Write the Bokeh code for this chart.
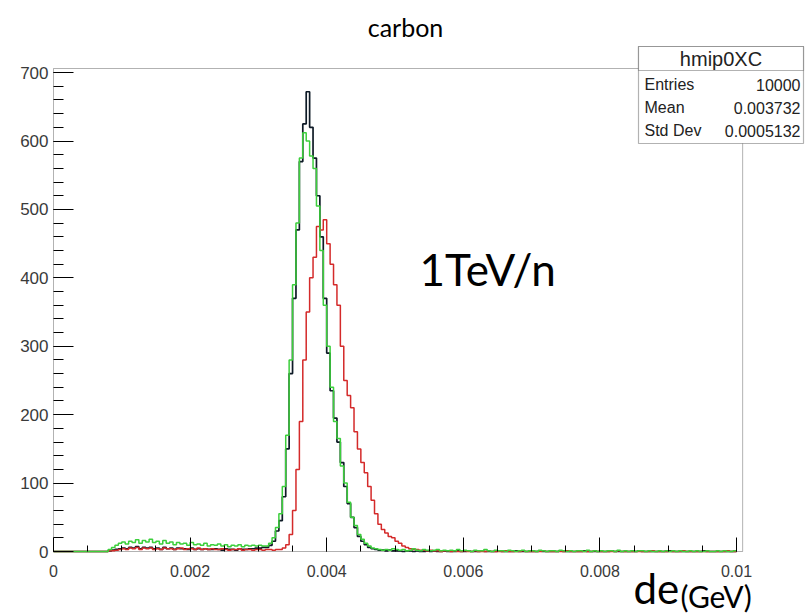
from bokeh.plotting import figure
from bokeh.models import Label, BoxAnnotation, FixedTicker, CustomJSTickFormatter, Range1d
from bokeh.embed import file_html
from bokeh.resources import INLINE

# ---------------- data (200 bins, 0 .. 0.01 GeV) ----------------
BIN_LOW = 0.0
BIN_WIDTH = 0.00005
N_BINS = 200

black_counts = [
    0, 0, 0, 0, 0, 0, 0, 0, 0, 0, 0, 0, 0, 0, 0, 0, 1, 2, 3, 4,
    5, 4, 6, 5, 7, 4, 6, 5, 6, 4, 5, 3, 6, 4, 5, 3, 5, 4, 4, 3,
    5, 3, 4, 3, 4, 3, 3, 4, 3, 2, 4, 3, 3, 2, 4, 3, 3, 4, 4, 5,
    5, 6, 6, 9, 15, 30, 45, 80, 150, 260, 370, 470, 570, 625, 672, 620, 575, 520, 460, 370,
    290, 235, 195, 160, 130, 95, 70, 50, 35, 22, 15, 10, 6, 4, 3, 2, 2, 1, 2, 1,
    1, 1, 0, 1, 1, 0, 1, 0, 0, 1, 0, 1, 0, 0, 1, 0, 0, 0, 1, 0,
    0, 1, 0, 0, 0, 1, 0, 0, 0, 0, 1, 0, 0, 0, 0, 1, 0, 0, 0, 0,
    0, 0, 1, 0, 0, 0, 0, 0, 1, 0, 0, 0, 0, 0, 0, 1, 0, 0, 0, 0,
    0, 0, 0, 1, 0, 0, 0, 0, 0, 0, 0, 1, 0, 0, 0, 0, 0, 0, 0, 0,
    1, 0, 0, 0, 0, 0, 0, 0, 0, 0, 1, 0, 0, 0, 0, 0, 0, 0, 0, 0,
]

red_counts = [
    0, 0, 0, 0, 0, 0, 0, 0, 0, 0, 0, 0, 0, 0, 0, 0, 1, 1, 2, 3,
    4, 3, 5, 4, 6, 3, 5, 4, 5, 3, 4, 3, 5, 4, 4, 3, 4, 5, 3, 4,
    4, 3, 5, 3, 4, 3, 4, 3, 3, 4, 3, 2, 3, 3, 4, 2, 3, 3, 2, 3,
    3, 2, 3, 3, 2, 3, 3, 5, 10, 25, 60, 120, 190, 280, 350, 400, 430, 475, 470, 485,
    450, 420, 390, 360, 300, 250, 228, 210, 175, 150, 130, 115, 95, 75, 55, 40, 32, 27, 22, 20,
    15, 12, 8, 6, 4, 3, 3, 2, 2, 1, 2, 1, 1, 0, 1, 1, 0, 1, 0, 0,
    1, 0, 0, 1, 0, 0, 0, 1, 0, 0, 0, 0, 1, 0, 0, 0, 0, 1, 0, 0,
    0, 0, 0, 1, 0, 0, 0, 0, 0, 0, 1, 0, 0, 0, 0, 0, 0, 0, 1, 0,
    0, 0, 0, 0, 0, 1, 0, 0, 0, 0, 0, 0, 0, 0, 0, 1, 0, 0, 0, 0,
    0, 0, 0, 0, 1, 0, 0, 0, 0, 0, 0, 0, 0, 0, 0, 0, 0, 1, 0, 0,
]

green_counts = [
    0, 0, 0, 0, 0, 0, 0, 0, 0, 0, 0, 0, 0, 0, 0, 0, 3, 6, 9, 12,
    14, 11, 15, 13, 17, 12, 16, 14, 18, 13, 15, 11, 16, 12, 14, 10, 13, 11, 12, 9,
    13, 10, 11, 9, 12, 8, 10, 9, 11, 8, 10, 7, 9, 8, 10, 7, 9, 8, 9, 8,
    9, 8, 8, 12, 20, 35, 55, 95, 170, 280, 390, 480, 575, 612, 600, 578, 560, 505, 440, 360,
    300, 240, 190, 165, 125, 100, 72, 50, 38, 25, 18, 12, 8, 5, 4, 3, 2, 3, 2, 4,
    3, 2, 3, 1, 2, 4, 2, 1, 3, 2, 1, 2, 3, 1, 2, 1, 2, 1, 3, 1,
    2, 1, 0, 2, 1, 1, 3, 1, 0, 2, 1, 1, 0, 2, 1, 0, 1, 2, 0, 1,
    1, 0, 2, 1, 0, 1, 1, 0, 2, 1, 0, 1, 0, 1, 1, 0, 2, 0, 1, 0,
    1, 0, 1, 1, 0, 2, 0, 1, 0, 1, 0, 1, 1, 0, 1, 0, 0, 1, 0, 1,
    0, 1, 0, 1, 0, 0, 1, 0, 1, 0, 0, 1, 0, 0, 1, 0, 1, 0, 0, 1,
]

x_ticks = [0, 0.002, 0.004, 0.006, 0.008, 0.01]
x_minor = [i * 0.0005 for i in range(21)]
y_ticks = [0, 100, 200, 300, 400, 500, 600, 700]
y_minor = [i * 20 for i in range(36)]
X_MAX = 0.01009      # histogram frame right edge
Y_MAX = 706          # frame top (1.05 x maximum)

stats_title = "hmip0XC"
stats_names = ["Entries", "Mean", "Std Dev"]
stats_values = ["10000", "0.003732", "0.0005132"]

# ---------------- page geometry ----------------
W, H = 808, 615
X0_PX, Y0_PX = 53, 551              # where x=0 / y=0 sit on the page
PX_PER_X = 683 / 0.01
PX_PER_Y = 483 / Y_MAX


def dx(px):
    return (px - X0_PX) / PX_PER_X


def dy(py):
    return (Y0_PX - py) / PX_PER_Y


p = figure(width=W, height=H,
           x_range=Range1d(dx(0), dx(W)), y_range=Range1d(dy(H), dy(0)),
           output_backend="svg", toolbar_location=None, min_border=0)
p.xgrid.visible = False
p.ygrid.visible = False
p.outline_line_color = None
p.background_fill_color = "white"
p.border_fill_color = "white"

# histogram frame (ROOT style box)
p.add_layout(BoxAnnotation(left=0, right=X_MAX, bottom=0, top=Y_MAX,
                           fill_alpha=0, line_color="black", line_width=1,
                           level="underlay"))

edges = [BIN_LOW + i * BIN_WIDTH for i in range(N_BINS + 1)]


def hist(counts, color, width):
    ys = list(counts) + [counts[-1]]
    p.step(edges, ys, mode="after", line_color=color, line_width=width)


hist(black_counts, "#0e1a26", 1.7)
hist(red_counts, "#d42a2a", 1.5)
hist(green_counts, "#3ccf3c", 1.5)

# axes pinned at x=0 / y=0
for ax in (p.xaxis[0], p.yaxis[0]):
    ax.fixed_location = 0
    ax.axis_line_color = None
    ax.major_tick_line_color = "black"
    ax.minor_tick_line_color = "black"
    ax.major_tick_out = 0
    ax.minor_tick_out = 0
    ax.major_label_text_font = "Liberation Sans"
    ax.major_label_text_color = "#3a3a3a"

p.xaxis.ticker = FixedTicker(ticks=x_ticks, minor_ticks=x_minor)
p.xaxis.formatter = CustomJSTickFormatter(
    code="return tick == 0 ? '0' : String(+tick.toFixed(4));")
p.xaxis.major_tick_in = 14
p.xaxis.minor_tick_in = 6
p.xaxis.major_label_standoff = 13
p.xaxis.major_label_text_font_size = "16px"

p.yaxis.ticker = FixedTicker(ticks=y_ticks, minor_ticks=y_minor)
p.yaxis.major_tick_in = 20
p.yaxis.minor_tick_in = 10
p.yaxis.major_label_standoff = 5
p.yaxis.major_label_text_font_size = "17px"

# ---------------- texts ----------------
p.add_layout(Label(x=dx(405), y=dy(26), text="carbon", text_align="center",
                   text_baseline="middle", text_font="Lato", text_font_size="25px",
                   text_color="black"))
p.add_layout(Label(x=dx(419), y=dy(268), text="1TeV/n", text_align="left",
                   text_baseline="middle", text_font="Lato", text_font_size="44px",
                   text_color="black"))
p.add_layout(Label(x=dx(633), y=dy(587), text="de", text_align="left",
                   text_baseline="middle", text_font="Lato", text_font_size="42px",
                   text_color="black"))
p.add_layout(Label(x=dx(680), y=dy(595), text="(GeV)", text_align="left",
                   text_baseline="middle", text_font="Lato", text_font_size="30px",
                   text_color="black"))

# ---------------- stats box ----------------
BL, BR, BT, BS, BB = 638, 803, 46, 70, 143
p.add_layout(BoxAnnotation(left=dx(BL), right=dx(BR), top=dy(BT), bottom=dy(BB),
                           fill_color="white", fill_alpha=1.0,
                           line_color="black", line_width=1.2, level="overlay"))
p.add_layout(BoxAnnotation(left=dx(BL), right=dx(BR), top=dy(BT), bottom=dy(BS),
                           fill_color="white", fill_alpha=1.0,
                           line_color="black", line_width=1.2, level="overlay"))
p.add_layout(Label(x=dx((BL + BR) / 2), y=dy(58), text=stats_title, text_align="center",
                   text_baseline="middle", text_font="Liberation Sans",
                   text_font_size="20px", text_color="#222", level="overlay"))
row_y = [84, 107, 130]
for name, val, ry in zip(stats_names, stats_values, row_y):
    p.add_layout(Label(x=dx(644), y=dy(ry), text=name, text_align="left",
                       text_baseline="middle", text_font="Liberation Sans",
                       text_font_size="16px", text_color="#222", level="overlay"))
    p.add_layout(Label(x=dx(800), y=dy(ry), text=val, text_align="right",
                       text_baseline="middle", text_font="Liberation Sans",
                       text_font_size="16px", text_color="#222", level="overlay"))

open("out.html", "w").write(file_html(p, INLINE))
